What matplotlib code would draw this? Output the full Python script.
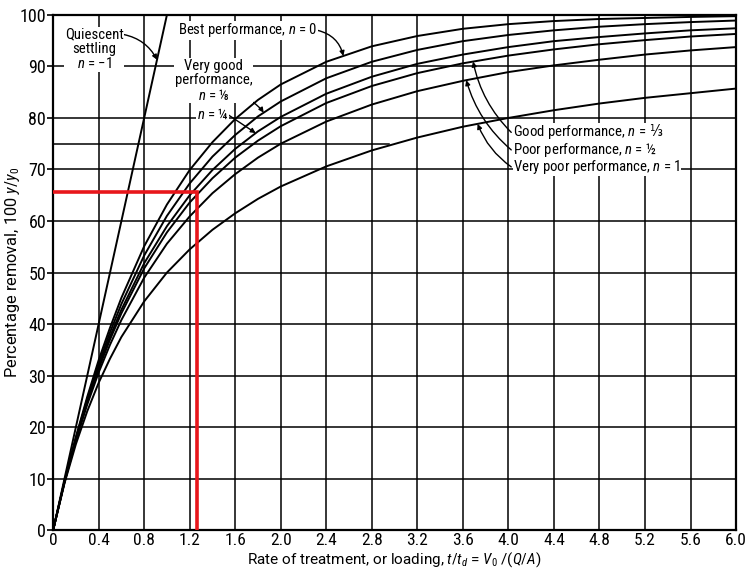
import numpy as np
import matplotlib
matplotlib.use('Agg')
import matplotlib.pyplot as plt
from matplotlib import font_manager

# rate of treatment (x) and percentage removal
x_pts = [0, 0.1, 0.2, 0.3, 0.4, 0.5, 0.6, 0.8, 1.0, 1.2, 1.4, 1.6, 1.8, 2.0,
         2.4, 2.8, 3.2, 3.6, 4.0, 4.4, 4.8, 5.2, 5.6, 6.0]
best_n0 = [0, 9.5, 18.1, 25.9, 33.0, 39.3, 45.1, 55.1, 63.2, 69.9, 75.3, 79.8, 83.5, 86.5,
           90.9, 93.9, 95.9, 97.3, 98.2, 98.8, 99.2, 99.4, 99.6, 99.75]
vgood_n8 = [0, 9.5, 17.9, 25.5, 32.3, 38.4, 43.9, 53.3, 61.0, 67.3, 72.5, 76.7, 80.3, 83.2,
            87.7, 90.9, 93.2, 94.9, 96.1, 97.0, 97.7, 98.2, 98.6, 98.9]
vgood_n4 = [0, 9.4, 17.7, 25.1, 31.7, 37.6, 42.8, 51.8, 59.0, 65.0, 69.9, 74.0, 77.4, 80.2,
            84.7, 88.0, 90.5, 92.3, 93.75, 94.9, 95.7, 96.4, 97.0, 97.4]
good_n3 = [0, 9.4, 17.6, 24.9, 31.3, 37.0, 42.1, 50.8, 57.8, 63.6, 68.3, 72.3, 75.6, 78.4,
           82.9, 86.2, 88.7, 90.6, 92.1, 93.3, 94.3, 95.1, 95.8, 96.3]
poor_n2 = [0, 9.3, 17.4, 24.4, 30.6, 36.0, 40.8, 49.0, 55.6, 60.9, 65.4, 69.1, 72.3, 75.0,
           79.3, 82.6, 85.2, 87.2, 88.9, 90.2, 91.3, 92.3, 93.1, 93.75]
vpoor_n1 = [0, 9.1, 16.7, 23.1, 28.6, 33.3, 37.5, 44.4, 50.0, 54.5, 58.3, 61.5, 64.3, 66.7,
            70.6, 73.7, 76.2, 78.3, 80.0, 81.5, 82.8, 83.9, 84.8, 85.7]
quiescent_x = [0, 1.0]
quiescent_y = [0, 100]

red_x = 1.26
red_y = 65.6

x_ticks = [0, 0.4, 0.8, 1.2, 1.6, 2.0, 2.4, 2.8, 3.2, 3.6, 4.0, 4.4, 4.8, 5.2, 5.6, 6.0]
x_tick_labels = ['0', '0.4', '0.8', '1.2', '1.6', '2.0', '2.4', '2.8', '3.2', '3.6',
                 '4.0', '4.4', '4.8', '5.2', '5.6', '6.0']
y_ticks = [0, 10, 20, 30, 40, 50, 60, 70, 80, 90, 100]

# narrow face if the machine has one, like the condensed type of the book
names = {f.name for f in font_manager.fontManager.ttflist}
fam = 'DejaVu Sans'
for cand in ['Roboto Condensed', 'Liberation Sans Narrow', 'Open Sans Condensed', 'Roboto']:
    if cand in names:
        fam = cand
        break
lab_fam = 'Roboto' if 'Roboto' in names else fam
plt.rcParams['font.family'] = [fam, 'DejaVu Sans']
plt.rcParams['font.stretch'] = 'condensed'
plt.rcParams['mathtext.fontset'] = 'custom'
plt.rcParams['mathtext.rm'] = fam
plt.rcParams['mathtext.it'] = fam + ':italic'
plt.rcParams['mathtext.fallback'] = 'stixsans'

fig = plt.figure(figsize=(7.48, 5.72), dpi=100)
ax = fig.add_axes([0.071, 0.073, 0.913, 0.901])

ax.set_xlim(0, 6.0)
ax.set_ylim(0, 100)
ax.set_xticks(x_ticks)
ax.set_xticklabels(x_tick_labels)
ax.set_yticks(y_ticks)
ax.tick_params(axis='x', length=0, pad=2, labelsize=12.5)
ax.tick_params(axis='y', length=4, width=1.2, pad=1, labelsize=13)
ax.grid(True, color='black', linewidth=1.1)
ax.set_axisbelow(True)
for s in ax.spines.values():
    s.set_linewidth(1.6)

# short extra line at 75 drawn on the original sheet
ax.plot([0, 2.95], [75, 75], color='black', lw=1.1, zorder=1)

lw = 1.4
ax.plot(quiescent_x, quiescent_y, color='black', lw=lw, zorder=3)
curves = [best_n0, vgood_n8, vgood_n4, good_n3, poor_n2, vpoor_n1]
for c in curves:
    ax.plot(x_pts, c, color='black', lw=lw, zorder=3)

ax.plot([0, red_x, red_x], [red_y, red_y, 0], color='#e8161b', lw=2.6, zorder=4,
        solid_joinstyle='miter')

box = dict(facecolor='white', edgecolor='none', pad=0.3)
arr = dict(arrowstyle='-|>', color='black', lw=1.0, mutation_scale=7,
           shrinkA=0, shrinkB=0)
fs = 10.6


def tip(series, xv):
    return (xv, float(np.interp(xv, x_pts, series)))


ax.annotate('Quiescent\nsettling\n$n$ = \u22121', xy=(0.913, 91.3), xytext=(0.36, 93.3),
            ha='center', va='center', fontsize=fs, linespacing=1.05, bbox=box, zorder=5,
            arrowprops=dict(arr, connectionstyle='arc3,rad=-0.25', relpos=(0.95, 0.85)))
ax.annotate('Best performance, $n$ = 0', xy=tip(best_n0, 2.55), xytext=(1.10, 97.0),
            ha='left', va='center', fontsize=fs, bbox=box, zorder=5,
            arrowprops=dict(arr, connectionstyle='arc3,rad=-0.3', relpos=(1.0, 0.5)))
ax.annotate('Very good\nperformance,\n$n$ = \u215b', xy=tip(vgood_n8, 1.85),
            xytext=(1.41, 87.2), ha='center', va='center', fontsize=fs, linespacing=1.05,
            bbox=box, zorder=5,
            arrowprops=dict(arr, connectionstyle='arc3,rad=-0.2', relpos=(0.85, 0.12)))
ax.annotate('$n$ = \u00bc', xy=tip(vgood_n4, 1.78), xytext=(1.40, 80.6),
            ha='center', va='center', fontsize=fs, bbox=box, zorder=5,
            arrowprops=dict(arr, connectionstyle='arc3,rad=0.0', relpos=(1.0, 0.5)))

right_labels = [('Good performance, $n$ =', '\u2153', good_n3, 3.69, 77.2),
                ('Poor performance, $n$ =', '\u00bd', poor_n2, 3.63, 73.8),
                ('Very poor performance, $n$ = 1', '', vpoor_n1, 3.73, 70.5)]
for txt, frac, ser, xv, yt in right_labels:
    t = ax.text(4.04, yt, txt, ha='left', va='center', fontsize=fs, bbox=box, zorder=5)
    ax.annotate('', xy=tip(ser, xv), xytext=(4.025, yt), zorder=5,
                arrowprops=dict(arr, connectionstyle='arc3,rad=-0.15'))
    if frac:
        # the fraction sign comes from a plain text so the font list can fill it in
        ax.annotate(frac, xy=(1, 0.5), xycoords=t, xytext=(2.0, 0),
                    textcoords='offset points', ha='left', va='center', fontsize=fs,
                    family=[fam, 'DejaVu Sans'],
                    bbox=dict(facecolor='white', edgecolor='none', pad=2.0), zorder=5)

ax.set_ylabel('Percentage removal, 100 $y/y_0$', fontsize=11.8, family=lab_fam,
              fontstretch='normal')
ax.yaxis.set_label_coords(-0.046, 0.5)
ax.set_xlabel('Rate of treatment, or loading, $t/t_d$ = $V_0$ /($Q/A$)', fontsize=11,
              family=lab_fam, fontstretch='normal')
ax.xaxis.set_label_coords(0.5, -0.039)

fig.savefig('out.png', dpi=100, facecolor='white')
